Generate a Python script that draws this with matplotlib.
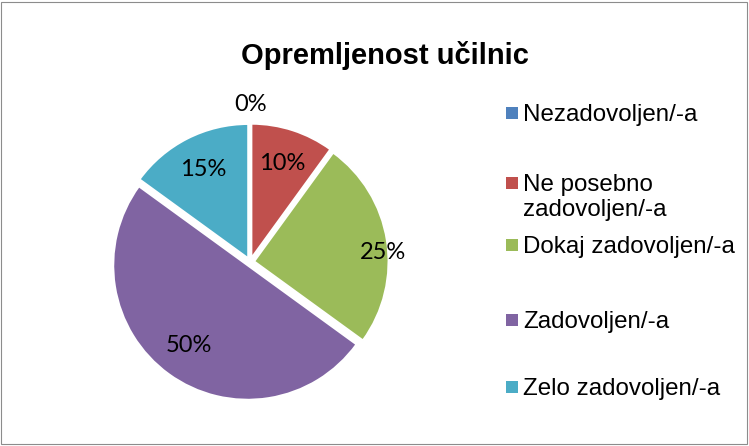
import numpy as np
import matplotlib.pyplot as plt
from matplotlib.patches import Rectangle

categories = ['Nezadovoljen/-a', 'Ne posebno\nzadovoljen/-a', 'Dokaj zadovoljen/-a',
              'Zadovoljen/-a', 'Zelo zadovoljen/-a']
values = [0, 10, 25, 50, 15]
pct_labels = ['0%', '10%', '25%', '50%', '15%']
colors = ['#4F81BD', '#C0504D', '#9BBB59', '#8064A2', '#4BACC6']

fig = plt.figure(figsize=(7.49, 4.46), dpi=100)
fig.patches.append(Rectangle((0.002, 0.004), 0.995, 0.992, transform=fig.transFigure,
                             fill=False, edgecolor='#8c8c8c', linewidth=0.8))

fig.text(0.514, 0.875, 'Opremljenost učilnic', ha='center', va='center',
         fontsize=21, fontweight='bold', family='Liberation Sans')

ax = fig.add_axes([0.1309, 0.0717, 0.406, 0.6816])
wedges, texts = ax.pie(values, colors=colors, startangle=90, counterclock=False,
                       explode=[0.03] * len(values), radius=1,
                       wedgeprops=dict(edgecolor='white', linewidth=1.5))
ax.set_xlim(-1.13, 1.13)
ax.set_ylim(-1.13, 1.13)
ax.set_aspect('equal')
ax.axis('off')

# label distance as fraction of radius (Excel "best fit" look)
dists = [1.14, 0.74, 0.96, 0.74, 0.74]
nudge = [0, 0, -5, 0, 0]  # degrees, Excel puts 25% a bit lower
for w, lab, d, n in zip(wedges, pct_labels, dists, nudge):
    ang = np.deg2rad((w.theta1 + w.theta2) / 2 + n)
    cx, cy = w.center
    ax.text(cx + d * np.cos(ang), cy + d * np.sin(ang), lab, ha='center', va='center',
            fontsize=17, family='Lato')

# legend entries, drawn by hand to follow Excel's uneven spacing
leg_y = [113, 183, 245, 320, 387]
for lab, c, y in zip(categories, colors, leg_y):
    yf = 1 - y / 446
    fig.patches.append(Rectangle((506 / 749, yf - 6 / 446), 12 / 749, 12 / 446,
                                 transform=fig.transFigure, facecolor=c, edgecolor='none'))
    for i, line in enumerate(lab.split('\n')):
        fig.text(523 / 749, yf - (8 + 25 * i) / 446, line, ha='left', va='baseline',
                 fontsize=17.4, family='Liberation Sans')

fig.savefig('out.png', dpi=100)
